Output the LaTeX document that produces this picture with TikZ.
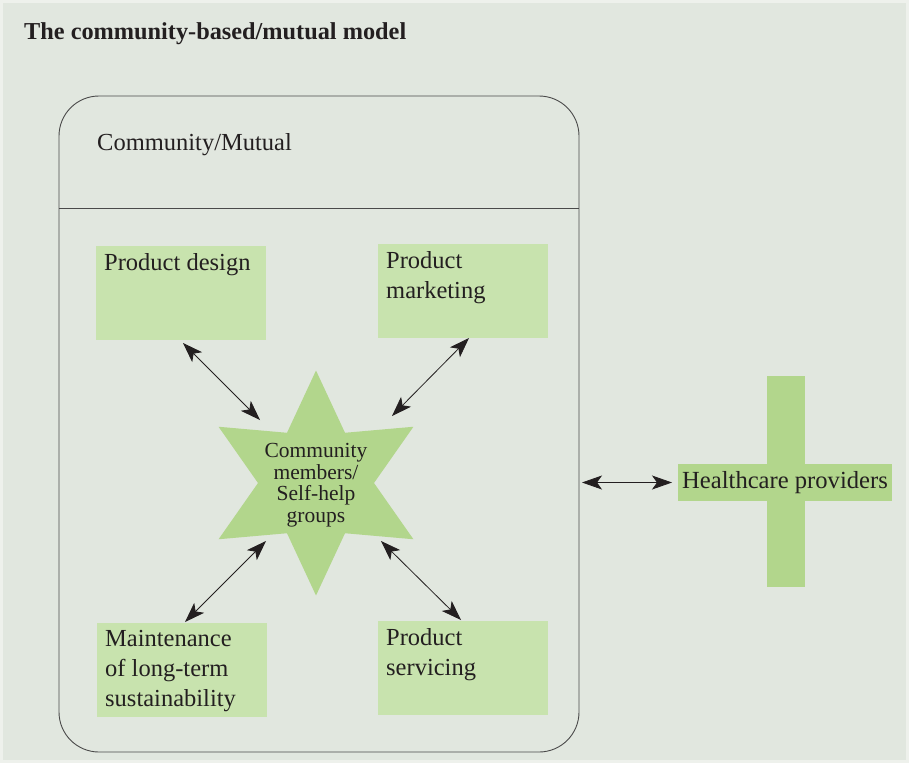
\documentclass[tikz,border=0pt]{standalone}
\usepackage{fontspec}
\setmainfont{Liberation Serif}
\usetikzlibrary{arrows.meta,calc}
\definecolor{edge}{HTML}{EEF1EC}
\definecolor{bg}{HTML}{E1E7DF}
\definecolor{boxg}{HTML}{C8E3AE}
\definecolor{darkg}{HTML}{B2D68C}
\definecolor{ink}{HTML}{231F20}
\definecolor{frame}{HTML}{4A4A4A}
\begin{document}
\begin{tikzpicture}[x=1pt,y=-1pt,
  box/.style={fill=boxg, draw=none, minimum width=170pt, minimum height=94pt, anchor=north west, inner sep=0pt, outer sep=0pt},
  boxtxt/.style={anchor=north west, inner sep=0pt, align=left, font=\fontsize{24.5}{30}\selectfont, text=ink},
  biarrow/.style={{Stealth[length=20pt,width=14pt,inset=5pt]}-{Stealth[length=20pt,width=14pt,inset=5pt]}, line width=0.8pt, draw=ink}]
\fill[edge] (0,0) rectangle (909,763);
\fill[bg] (3,3) rectangle (906,760);
\useasboundingbox (0,0) rectangle (909,763);

\node[anchor=base west, inner sep=0pt, text=ink, font=\bfseries\fontsize{24.3}{28}\selectfont] (title) at (24,39) {The community-based/mutual model};

\node[draw=frame, line width=0.9pt, rounded corners=40pt, minimum width=520pt, minimum height=656pt, anchor=north west, inner sep=0pt, outer sep=0pt] (comm) at (59,96) {};
\draw[frame, line width=0.9pt] (comm.west |- 0,208) -- (comm.east |- 0,208);
\node[anchor=base west, inner sep=0pt, text=ink, font=\fontsize{24.5}{28}\selectfont] (cmlabel) at (97,150) {Community/Mutual};

\node[box] (pd) at (96,246) {};
\node[box] (pm) at (378,244) {};
\node[box] (mt) at (97,623) {};
\node[box] (ps) at (378,621) {};
\node[boxtxt] (pdt) at ($(pd.north west)+(8,7)$) {Product design};
\node[boxtxt] (pmt) at ($(pm.north west)+(8,7)$) {Product\\marketing};
\node[boxtxt] (mtt) at ($(mt.north west)+(8,7)$) {Maintenance\\of long-term\\sustainability};
\node[boxtxt] (pst) at ($(ps.north west)+(8,7)$) {Product\\servicing};

\fill[darkg, shift={(316,483)}] (90:112.5) -- (60:58) -- (30:112.5) -- (0:58) -- (-30:112.5) -- (-60:58) -- (-90:112.5) -- (-120:58) -- (-150:112.5) -- (180:58) -- (150:112.5) -- (120:58) -- cycle;
\node[align=center, inner sep=0pt, text=ink, font=\fontsize{21.5}{21.5}\selectfont] (star) at (316,485) {Community\\members/\\Self-help\\groups};

\fill[darkg] (767,376) rectangle (805,587);
\node[fill=darkg, minimum width=214pt, minimum height=37pt, inner sep=0pt, outer sep=0pt, text=ink, font=\fontsize{24.6}{28}\selectfont] (hc) at (785,482.5) {Healthcare providers};

\coordinate (a1a) at (183,343); \coordinate (a1b) at (260,420);
\coordinate (a2a) at (469,338); \coordinate (a2b) at (392,416);
\coordinate (a3a) at (266,541); \coordinate (a3b) at (185,622);
\coordinate (a4a) at (381,541); \coordinate (a4b) at (461,620);
\draw[biarrow] (a1a) -- (a1b);
\draw[biarrow] (a2a) -- (a2b);
\draw[biarrow] (a3a) -- (a3b);
\draw[biarrow] (a4a) -- (a4b);
\draw[biarrow] ([xshift=3pt]comm.east |- hc.west) -- ([xshift=-6pt]hc.west);
\end{tikzpicture}
\end{document}
